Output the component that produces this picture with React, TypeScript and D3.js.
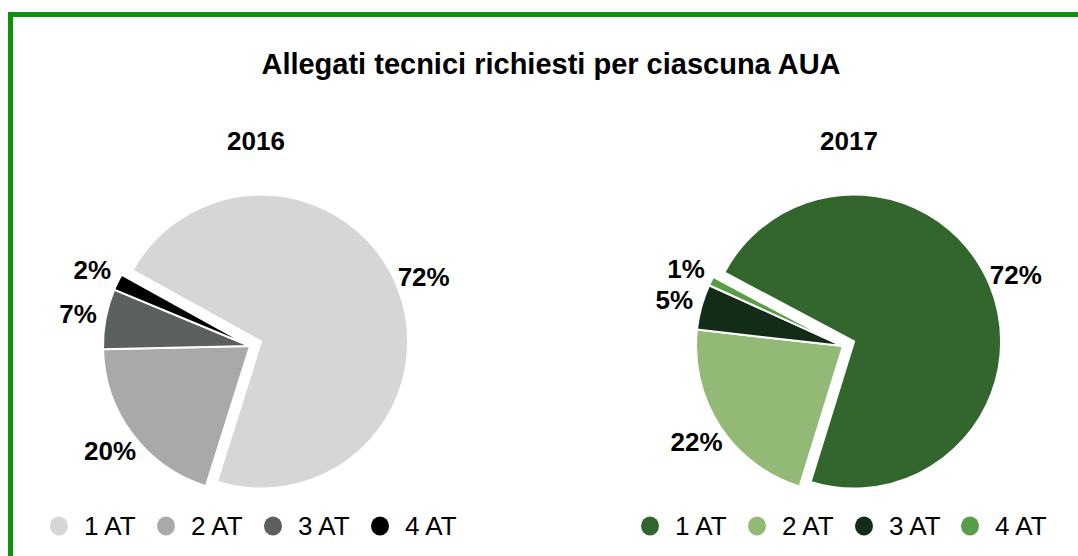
import React from "react";
import * as d3 from "d3";

const title = "Allegati tecnici richiesti per ciascuna AUA";
const categories = ["1 AT", "2 AT", "3 AT", "4 AT"];
const years = ["2016", "2017"];
const values2016 = [71.8, 19.8, 6.6, 1.8];
const values2017 = [72, 22, 5, 1];
const colors2016 = ["#d6d6d6", "#a9a9a9", "#5b5f5d", "#000000"];
const colors2017 = ["#33662d", "#93b976", "#122c17", "#5a9d47"];

const FONT = "'Liberation Sans', Arial, Helvetica, sans-serif";

type PieSpec = {
  year: string;
  values: number[];
  colors: string[];
  cx: number;
  cy: number;
  startDeg: number;
  legendX: number[];
};

const pies: PieSpec[] = [
  { year: years[0], values: values2016, colors: colors2016, cx: 250, cy: 346, startDeg: 299, legendX: [59, 166, 273, 380] },
  { year: years[1], values: values2017, colors: colors2017, cx: 843, cy: 346, startDeg: 298, legendX: [650, 757, 864, 970] },
];

const R = 147;
const EXPLODE = 12;
const LABEL_R = R + 28;

function Pie({ spec }: { spec: PieSpec }) {
  const total = d3.sum(spec.values);
  const start = (spec.startDeg * Math.PI) / 180;
  const pie = d3
    .pie<number>()
    .sort(null)
    .value((d) => d)
    .startAngle(start)
    .endAngle(start + 2 * Math.PI);
  const arcs = pie(spec.values);
  const arc = d3.arc<d3.PieArcDatum<number>>().innerRadius(0).outerRadius(R);
  return (
    <g>
      <text x={spec.cx + 6} y={150} textAnchor="middle" fontFamily={FONT} fontWeight="bold" fontSize={26} fill="#000">
        {spec.year}
      </text>
      {arcs.map((a, i) => {
        const mid = (a.startAngle + a.endAngle) / 2;
        const off = i === 0 ? EXPLODE : 0;
        const ox = spec.cx + Math.sin(mid) * off;
        const oy = spec.cy - Math.cos(mid) * off;
        const lx = ox + Math.sin(mid) * LABEL_R;
        const ly = oy - Math.cos(mid) * LABEL_R;
        return (
          <g key={i}>
            <path
              d={arc(a) || ""}
              transform={`translate(${ox},${oy})`}
              fill={spec.colors[i]}
              stroke="#fff"
              strokeWidth={2}
              strokeLinejoin="round"
            />
            <text
              x={lx}
              y={ly}
              dy="0.35em"
              textAnchor="middle"
              fontFamily={FONT}
              fontWeight="bold"
              fontSize={26}
              fill="#000"
            >
              {Math.round((a.value / total) * 100) + "%"}
            </text>
          </g>
        );
      })}
      {categories.map((c, i) => (
        <g key={c}>
          <ellipse cx={spec.legendX[i]} cy={526} rx={9} ry={9.5} fill={spec.colors[i]} />
          <text x={spec.legendX[i] + 25} y={526} dy="0.35em" fontFamily={FONT} fontSize={26} fill="#000">
            {c}
          </text>
        </g>
      ))}
    </g>
  );
}

export default function App() {
  return (
    <svg
      width={1078}
      height={556}
      style={{ position: "absolute", left: 0, top: 0, background: "#fff" }}
    >
      <rect x={10.5} y={14.5} width={1200} height={700} fill="none" stroke="#0d900d" strokeWidth={5} />
      <text x={551} y={74} textAnchor="middle" fontFamily={FONT} fontWeight="bold" fontSize={29} fill="#000">
        {title}
      </text>
      {pies.map((p) => (
        <Pie key={p.year} spec={p} />
      ))}
    </svg>
  );
}
